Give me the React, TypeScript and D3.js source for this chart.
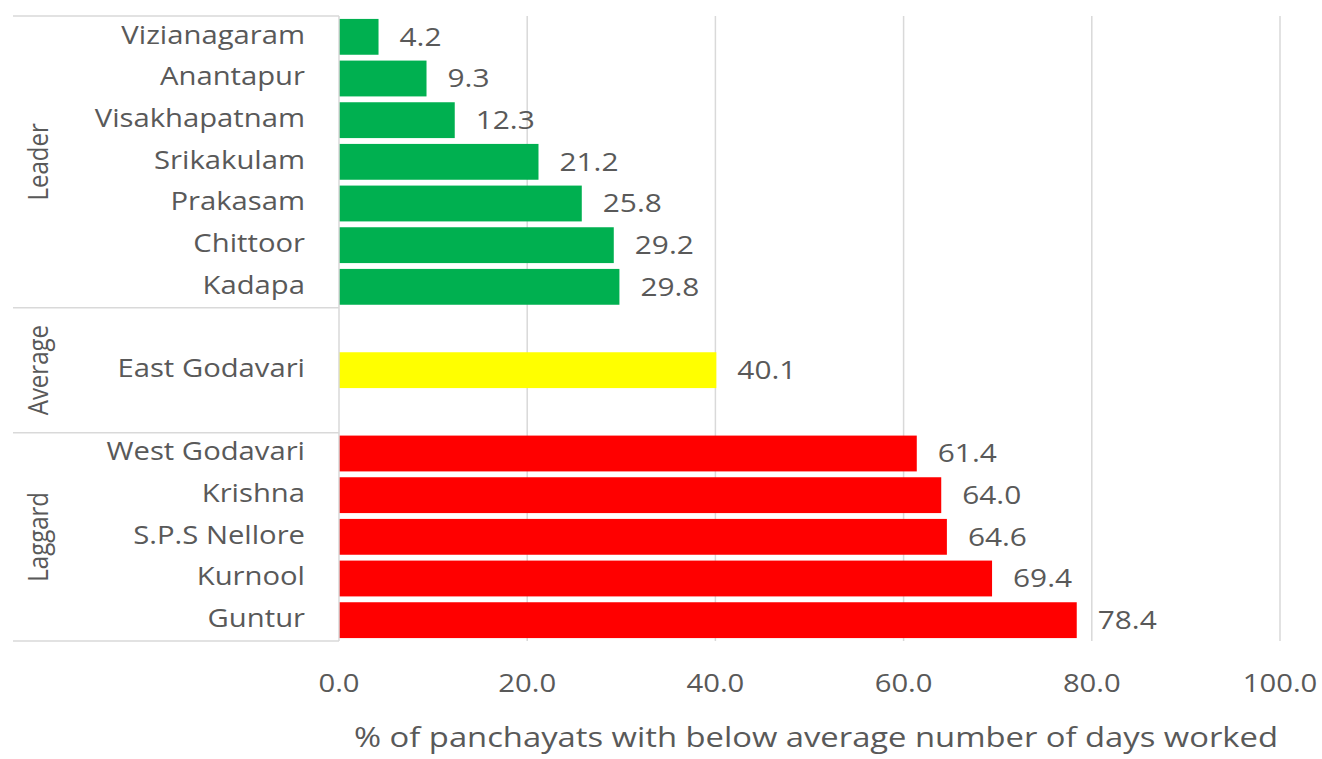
import React from 'react';
import * as d3 from 'd3';

const leaderDistricts = ['Vizianagaram', 'Anantapur', 'Visakhapatnam', 'Srikakulam', 'Prakasam', 'Chittoor', 'Kadapa'];
const leaderValues = [4.2, 9.3, 12.3, 21.2, 25.8, 29.2, 29.8];
const averageDistricts = ['East Godavari'];
const averageValues = [40.1];
const laggardDistricts = ['West Godavari', 'Krishna', 'S.P.S Nellore', 'Kurnool', 'Guntur'];
const laggardValues = [61.4, 64.0, 64.6, 69.4, 78.4];
const groupNames = ['Leader', 'Average', 'Laggard'];
const groupColors = ['#00b050', '#ffff00', '#ff0000'];
const xTicks = [0, 20, 40, 60, 80, 100];
const axisTitle = '% of panchayats with below average number of days worked';

const App = () => {
  const svgRef = React.useRef<SVGSVGElement>(null);

  const margin = { top: 16, right: 42, bottom: 118, left: 339 };
  const width = 1322;
  const height = 759;
  const innerW = 1280 - margin.left;
  const innerH = 641 - margin.top;
  // the source image text is a little wider than tall
  const stretch = 1.17;

  React.useEffect(() => {
    const svgEl = d3.select(svgRef.current);
    svgEl.selectAll('*').remove();

    // slots: average group has an empty slot either side
    const rows: { key: string; name: string; value: number | null; group: number }[] = [];
    leaderDistricts.forEach((d, i) => rows.push({ key: d, name: d, value: leaderValues[i], group: 0 }));
    rows.push({ key: 'avg-blank-1', name: '', value: null, group: 1 });
    averageDistricts.forEach((d, i) => rows.push({ key: d, name: d, value: averageValues[i], group: 1 }));
    rows.push({ key: 'avg-blank-2', name: '', value: null, group: 1 });
    laggardDistricts.forEach((d, i) => rows.push({ key: d, name: d, value: laggardValues[i], group: 2 }));

    const x = d3.scaleLinear().domain([0, 100]).range([0, innerW]);
    const y = d3.scaleBand<string>()
      .domain(rows.map((r) => r.key))
      .range([0, innerH])
      .paddingInner(0.14)
      .paddingOuter(0.07);
    const step = y.step();
    const slotTop = (k: string) => (y(k) as number) - (step - y.bandwidth()) / 2;

    const font = "'Open Sans', sans-serif";
    const textColor = '#595959';
    const lineColor = '#d9d9d9';

    const svg = svgEl.append('g').attr('transform', `translate(${margin.left},${margin.top})`);

    // gridlines
    svg.append('g')
      .selectAll('line')
      .data(xTicks.slice(1))
      .enter()
      .append('line')
      .attr('x1', (d) => x(d))
      .attr('x2', (d) => x(d))
      .attr('y1', 0)
      .attr('y2', innerH)
      .attr('stroke', lineColor)
      .attr('stroke-width', 1.5);

    // bars
    const filled = rows.filter((r) => r.value !== null);
    svg.append('g')
      .selectAll('rect')
      .data(filled)
      .enter()
      .append('rect')
      .attr('x', 0)
      .attr('y', (d) => y(d.key) as number)
      .attr('width', (d) => x(d.value as number))
      .attr('height', y.bandwidth())
      .attr('fill', (d) => groupColors[d.group]);

    // value labels
    svg.append('g')
      .selectAll('text')
      .data(filled)
      .enter()
      .append('text')
      .attr('transform', (d) => `translate(${x(d.value as number) + 21},${(y(d.key) as number) + y.bandwidth() / 2 + 2}) scale(${stretch},1)`)
      .attr('dominant-baseline', 'middle')
      .style('font-family', font)
      .style('font-size', '25.5px')
      .attr('fill', textColor)
      .text((d) => (d.value as number).toFixed(1));

    // category labels
    svg.append('g')
      .selectAll('text')
      .data(filled)
      .enter()
      .append('text')
      .attr('transform', (d) => `translate(-34,${(y(d.key) as number) + y.bandwidth() / 2}) scale(${stretch},1)`)
      .attr('dominant-baseline', 'middle')
      .attr('text-anchor', 'end')
      .style('font-family', font)
      .style('font-size', '25px')
      .attr('fill', textColor)
      .text((d) => d.name);

    // vertical axis line
    svg.append('line')
      .attr('x1', 0).attr('x2', 0)
      .attr('y1', 0).attr('y2', innerH)
      .attr('stroke', lineColor)
      .attr('stroke-width', 1.5);

    // group separators + group labels
    const groupBounds = groupNames.map((g, gi) => {
      const keys = rows.filter((r) => r.group === gi).map((r) => r.key);
      const top = slotTop(keys[0]);
      const bottom = slotTop(keys[keys.length - 1]) + step;
      return { name: g, top, bottom };
    });
    const sepY = [groupBounds[0].top, ...groupBounds.map((g) => g.bottom)];
    svg.append('g')
      .selectAll('line')
      .data(sepY)
      .enter()
      .append('line')
      .attr('x1', 13 - margin.left)
      .attr('x2', 0)
      .attr('y1', (d) => d)
      .attr('y2', (d) => d)
      .attr('stroke', lineColor)
      .attr('stroke-width', 1.5);

    svg.append('g')
      .selectAll('text')
      .data(groupBounds)
      .enter()
      .append('text')
      .attr('transform', (d) => `translate(${40 - margin.left},${(d.top + d.bottom) / 2}) scale(${stretch},1) rotate(-90)`)
      .attr('text-anchor', 'middle')
      .attr('dominant-baseline', 'middle')
      .style('font-family', font)
      .style('font-size', '24px')
      .attr('fill', textColor)
      .text((d) => d.name);

    // x tick labels
    svg.append('g')
      .selectAll('text')
      .data(xTicks)
      .enter()
      .append('text')
      .attr('transform', (d) => `translate(${x(d)},${innerH + 44}) scale(${stretch},1)`)
      .attr('text-anchor', 'middle')
      .attr('dominant-baseline', 'middle')
      .style('font-family', font)
      .style('font-size', '25px')
      .attr('fill', textColor)
      .text((d) => d.toFixed(1));

    // axis title
    svg.append('text')
      .attr('transform', `translate(${816 - margin.left},${innerH + 99}) scale(${stretch},1)`)
      .attr('text-anchor', 'middle')
      .attr('dominant-baseline', 'middle')
      .style('font-family', font)
      .style('font-size', '28px')
      .attr('fill', textColor)
      .text(axisTitle);
  // eslint-disable-next-line react-hooks/exhaustive-deps
  }, []);

  return (
    <svg
      ref={svgRef}
      width={width}
      height={height}
      style={{ position: 'fixed', left: 0, top: 0, display: 'block', background: '#fff' }}
    />
  );
};

export default App;
